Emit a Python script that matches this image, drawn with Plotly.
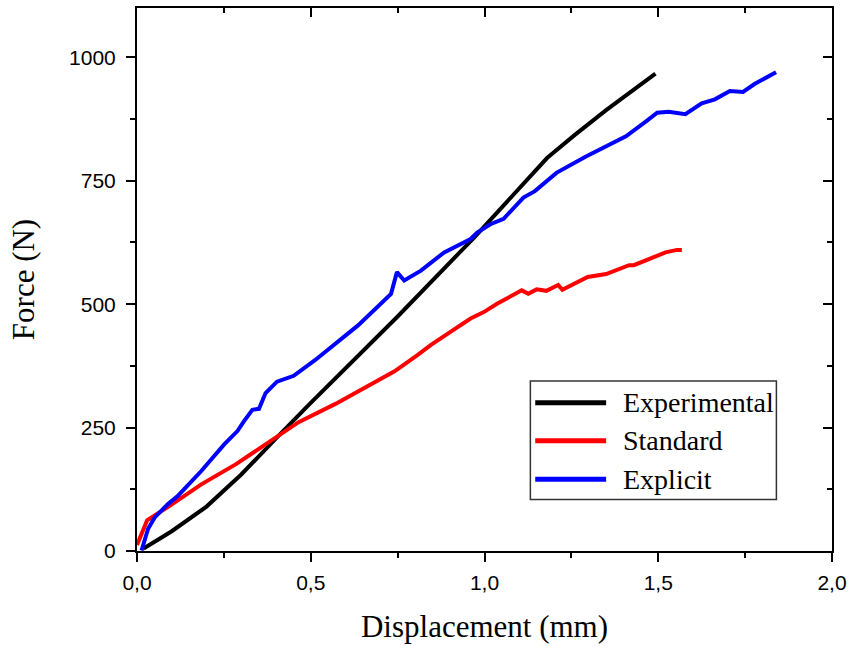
import plotly.graph_objects as go

# Experimental curve (black)
exp_disp = [0.019, 0.1, 0.2, 0.3, 0.4, 0.5, 0.75, 0.97, 1.18, 1.26, 1.35, 1.492]
exp_force = [5, 40, 90, 155, 228, 300, 475, 635, 796, 843, 893, 967]

# Standard model (red)
std_disp = [0.0, 0.029, 0.095, 0.185, 0.285, 0.375, 0.465, 0.571, 0.741, 0.807, 0.845,
            0.902, 0.96, 0.998, 1.036, 1.107, 1.126, 1.15, 1.178, 1.212, 1.224,
            1.297, 1.35, 1.416, 1.43, 1.521, 1.554, 1.568]
std_force = [12, 62, 92, 135, 176, 219, 261, 298, 364, 397, 417,
             444, 471, 484, 501, 528, 521, 530, 527, 539, 529,
             555, 561, 579, 579, 605, 610, 610]

# Explicit model (blue)
expl_disp = [0.013, 0.032, 0.051, 0.089, 0.118, 0.185, 0.251, 0.289, 0.308, 0.332,
             0.351, 0.37, 0.403, 0.451, 0.513, 0.636, 0.731, 0.748, 0.769, 0.817,
             0.884, 0.96, 0.979, 1.017, 1.055, 1.112, 1.145, 1.207, 1.292, 1.407,
             1.464, 1.497, 1.53, 1.578, 1.625, 1.663, 1.706, 1.744, 1.777, 1.839]
expl_force = [1, 45, 68, 95, 112, 162, 216, 243, 263, 286,
              288, 320, 343, 355, 387, 457, 521, 565, 548, 568,
              605, 632, 645, 662, 673, 716, 729, 766, 799, 840,
              870, 888, 890, 885, 907, 915, 932, 930, 946, 970]

series_names = ['Experimental', 'Standard', 'Explicit']
series_colors = ['#000000', '#ff0000', '#0000ff']

x_ticks = [0.0, 0.5, 1.0, 1.5, 2.0]
x_ticktext = ['0,0', '0,5', '1,0', '1,5', '2,0']
y_ticks = [0, 250, 500, 750, 1000]

fig = go.Figure()
data = [(exp_disp, exp_force), (std_disp, std_force), (expl_disp, expl_force)]
for (xs, ys), name, color in zip(data, series_names, series_colors):
    fig.add_trace(go.Scatter(x=xs, y=ys, mode='lines', name=name,
                             line=dict(color=color, width=4), showlegend=False))

# empty trace so the mirrored top/right axes get drawn
fig.add_trace(go.Scatter(x=[], y=[], xaxis='x2', yaxis='y2', showlegend=False,
                         hoverinfo='skip'))

tick_font = dict(family='Liberation Sans, Arial', size=21, color='black')
title_font = dict(family='Liberation Serif, Times New Roman', size=31, color='black')
axis_common = dict(showgrid=False, zeroline=False, showline=True, linewidth=2,
                   linecolor='black', tickwidth=2, tickcolor='black')

fig.update_layout(
    width=855, height=646,
    paper_bgcolor='white', plot_bgcolor='white',
    margin=dict(l=137, r=17, t=8, b=92),
    xaxis=dict(range=[0, 2], tickvals=x_ticks, ticktext=x_ticktext,
               ticks='outside', ticklen=9, tickfont=tick_font, ticklabelstandoff=3,
               minor=dict(ticks='outside', dtick=0.25, ticklen=5, tickwidth=2,
                          tickcolor='black'),
               title=dict(text='Displacement (mm)', standoff=22, font=title_font),
               **axis_common),
    yaxis=dict(range=[0, 1100], tickvals=y_ticks,
               ticks='outside', ticklen=9, tickfont=tick_font, ticklabelstandoff=6,
               minor=dict(ticks='outside', dtick=125, ticklen=5, tickwidth=2,
                          tickcolor='black'),
               title=dict(text='Force (N)', standoff=25, font=title_font),
               **axis_common),
    xaxis2=dict(range=[0, 2], overlaying='x', side='top', anchor='y2',
                tickvals=x_ticks, showticklabels=False, ticks='inside', ticklen=9,
                minor=dict(ticks='inside', dtick=0.25, ticklen=5, tickwidth=2,
                           tickcolor='black'),
                **axis_common),
    yaxis2=dict(range=[0, 1100], overlaying='y', side='right', anchor='x2',
                tickvals=y_ticks, showticklabels=False, ticks='inside', ticklen=9,
                minor=dict(ticks='inside', dtick=125, ticklen=5, tickwidth=2,
                           tickcolor='black'),
                **axis_common),
)

# legend box drawn by hand (long sample lines like the original)
fig.add_shape(type='rect', xref='paper', yref='paper', x0=0.566, x1=0.920,
              y0=0.095, y1=0.313, line=dict(color='#333333', width=1.5),
              fillcolor='white', layer='above')
row_y = [0.273, 0.203, 0.132]
for name, color, yy in zip(series_names, series_colors, row_y):
    fig.add_shape(type='line', xref='paper', yref='paper', x0=0.573, x1=0.675,
                  y0=yy, y1=yy, line=dict(color=color, width=5), layer='above')
    fig.add_annotation(xref='paper', yref='paper', x=0.697, y=yy, text=name,
                       showarrow=False, xanchor='left', yanchor='middle',
                       font=dict(family='Liberation Serif, Times New Roman',
                                 size=28, color='black'))

# drop the default 8px page margin so the figure fills the window exactly
fig.write_html("out.html", config={'displayModeBar': False},
               post_script="document.body.style.margin='0';")
